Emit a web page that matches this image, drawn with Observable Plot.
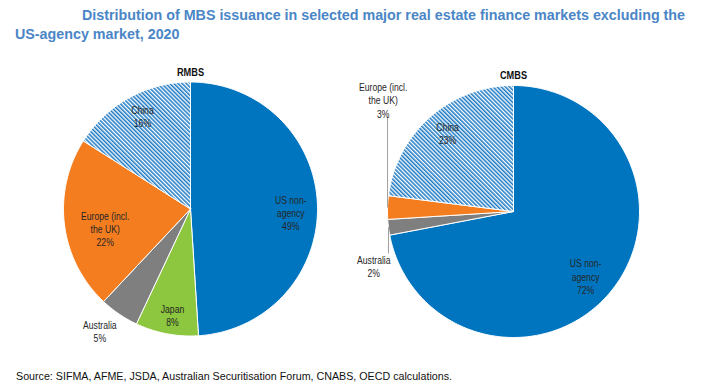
<!DOCTYPE html>
<html><head><meta charset="utf-8">
<script src="https://cdn.jsdelivr.net/npm/d3@7"></script>
<script src="https://cdn.jsdelivr.net/npm/@observablehq/plot@0.6"></script>
<style>
body{margin:0;background:#fff;width:725px;height:390px;overflow:hidden;font-family:"Liberation Sans",Arial,sans-serif;}
#title{height:46px;box-sizing:border-box;padding-top:5.5px;font-weight:bold;font-size:14.3px;line-height:19px;color:#4A86C6;}
#title span{display:block;white-space:nowrap;}
#t1{margin-left:82px;} #t2{margin-left:15px;}
#chart{height:318px;}
#source{font-size:10.7px;line-height:13px;color:#111;padding:5.7px 0 0 16px;white-space:nowrap;}
</style></head><body>
<svg width="0" height="0" style="position:absolute"><defs>
<pattern id="hatch" patternUnits="userSpaceOnUse" width="2.9" height="2.9" patternTransform="rotate(-45)">
<rect width="2.9" height="2.9" fill="#fff"/><rect width="1.55" height="2.9" fill="#1F7BC4"/>
</pattern></defs></svg>
<div id="title"><span id="t1">Distribution of MBS issuance in selected major real estate finance markets excluding the</span><span id="t2">US-agency market, 2020</span></div>
<div id="chart"></div>
<div id="source">Source: SIFMA, AFME, JSDA, Australian Securitisation Forum, CNABS, OECD calculations.</div>
<script>
// ---- data ----
const categories = ["US non-agency", "Japan", "Australia", "Europe (incl. the UK)", "China"];
const labelNames = ["US non-\nagency", "Japan", "Australia", "Europe (incl.\nthe UK)", "China"];
const rmbsShares = [49, 8, 5, 22, 16];
const cmbsShares = [72, 0, 2, 3, 23];
const panelTitles = ["RMBS", "CMBS"];

// ---- style / layout ----
const fills = ["#0075BF", "#8DC63F", "#7F7F7F", "#F47D20", "url(#hatch)"];
const pies = [
  {title: panelTitles[0], shares: rmbsShares, cx: 190, cy: 162.5, r: 127, titleY: 26,
   labelPolar: [[92.3, 0.79], [189.6, 0.85], [216.5, 1.2], [256.8, 0.69], [332.5, 0.82]], leaders: []},
  {title: panelTitles[1], shares: cmbsShares, cx: 513, cy: 165, r: 126, titleY: 29,
   labelPolar: [[132, 0.77], null, [248.7, 1.19], [310.5, 1.36], [319.8, 0.81]],
   leaders: [[3, 70], [2, 207]]}
];
function polar(p, deg, f) {
  const a = deg * Math.PI / 180;
  return [p.cx + p.r * f * Math.sin(a), p.cy - p.r * f * Math.cos(a)];
}
const sliceRows = [], labelRows = [], leaderRows = [], titleRows = [];
pies.forEach(p => {
  const total = d3.sum(p.shares);
  let acc = 0;
  const mids = [];
  categories.forEach((c, i) => {
    const v = p.shares[i];
    const a0 = acc / total * 360, a1 = (acc + v) / total * 360;
    acc += v;
    mids[i] = (a0 + a1) / 2;
    if (!v) return;
    const n = Math.max(2, Math.ceil(a1 - a0));
    const pts = [[p.cx, p.cy]];
    for (let k = 0; k <= n; k++) pts.push(polar(p, a0 + (a1 - a0) * k / n, 1));
    pts.push([p.cx, p.cy]);
    pts.forEach(q => sliceRows.push({key: p.title + i, x: q[0], y: q[1], fill: fills[i]}));
    const lp = p.labelPolar[i];
    const [lx, ly] = polar(p, lp[0], lp[1]);
    labelRows.push({x: lx, y: ly, text: labelNames[i] + "\n" + v + "%"});
  });
  p.leaders.forEach(([i, yEnd]) => {
    const [ex, ey] = polar(p, mids[i], 1);
    leaderRows.push({x1: ex, y1: ey, x2: ex, y2: yEnd});
  });
  titleRows.push({x: p.cx, y: p.titleY, text: p.title});
});

const chart = Plot.plot({
  width: 725, height: 318, margin: 0,
  style: {fontFamily: '"Liberation Sans",Arial,sans-serif', background: "white"},
  x: {domain: [0, 725], range: [0, 725], axis: null},
  y: {domain: [0, 318], range: [0, 318], axis: null},
  color: {type: "identity"},
  marks: [
    Plot.line(sliceRows, {x: "x", y: "y", z: "key", fill: "fill", stroke: "#fff", strokeWidth: 1, strokeLinejoin: "miter"}),
    Plot.link(leaderRows, {x1: "x1", y1: "y1", x2: "x2", y2: "y2", stroke: "#A0A0A0", strokeWidth: 1}),
    Plot.text(labelRows, {x: "x", y: "y", text: "text", fontSize: 10.8, lineHeight: 1.22, fill: "#262626"}),
    Plot.text(titleRows, {x: "x", y: "y", text: "text", fontSize: 11.5, fontWeight: "bold", fill: "#111"})
  ]
});
// Arial Narrow look for the in-chart labels: condense each around its anchor
chart.querySelectorAll("text").forEach(t => {
  const x = +(t.getAttribute("x") || 0);
  const tr = t.getAttribute("transform") || "";
  t.setAttribute("transform", `${tr} translate(${x},0) scale(0.8,1) translate(${-x},0)`);
});
document.getElementById("chart").appendChild(chart);
</script>
</body></html>
